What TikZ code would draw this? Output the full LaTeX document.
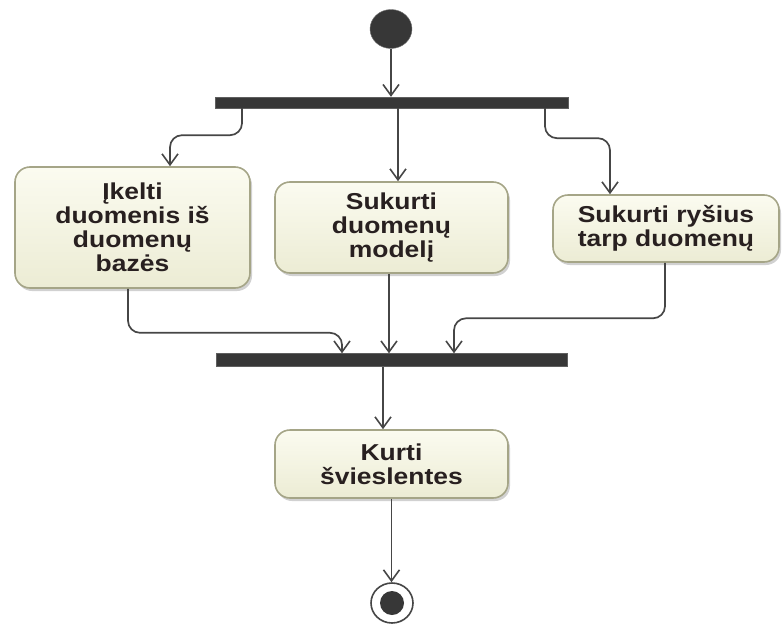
\documentclass[tikz,border=0pt]{standalone}
\usepackage{fontspec}
\setmainfont{Liberation Sans}[FakeStretch=1.15]
\usetikzlibrary{arrows.meta,calc,shadows,shapes.geometric}
\definecolor{barfill}{RGB}{55,55,55}
\definecolor{flowline}{RGB}{70,70,70}
\definecolor{actborder}{RGB}{165,165,135}
\definecolor{acttop}{RGB}{251,251,240}
\definecolor{actbot}{RGB}{236,236,212}
\definecolor{acttext}{RGB}{40,32,32}
\tikzset{
  actbox/.style={draw=actborder, line width=1.6pt, rounded corners=15pt,
    top color=acttop, bottom color=actbot, align=center, text=acttext,
    font=\fontsize{23}{24}\selectfont\bfseries, inner sep=2pt,
    drop shadow={shadow xshift=2pt, shadow yshift=-3pt, opacity=0.3, fill=black!60}},
  syncbar/.style={rectangle, fill=barfill, draw=barfill!80, inner sep=0pt},
  flow/.style={draw=flowline, line width=1.7pt, rounded corners=12pt,
    -{Straight Barb[length=11pt,width=16pt,line width=1.6pt]}},
}
\begin{document}
\begin{tikzpicture}[x=1pt,y=-1pt]
\useasboundingbox (0,0) rectangle (782,624);

% initial and final states
\node[ellipse, fill=barfill, draw=barfill!70, minimum width=42pt, minimum height=39pt, inner sep=0pt] (start) at (391,29) {};
\node[ellipse, draw=flowline, line width=1.6pt, fill=white, minimum width=42pt, minimum height=40pt, inner sep=0pt] (end) at (392,603) {};
\node[circle, fill=barfill, minimum size=24pt, inner sep=0pt] (endcore) at (end.center) {};

% fork and join bars
\node[syncbar, minimum width=353pt, minimum height=11pt] (fork) at (391.5,102.5) {};
\node[syncbar, minimum width=351pt, minimum height=13pt] (join) at (391.5,360) {};

% actions
\node[actbox, minimum width=235pt, minimum height=121pt] (load) at (132.5,227.5)
  {Įkelti\\duomenis iš\\duomenų\\bazės};
\node[actbox, minimum width=233pt, minimum height=91pt] (model) at (391.5,227.5)
  {Sukurti\\duomenų\\modelį};
\node[actbox, minimum width=226pt, minimum height=67pt] (rel) at (666,228.5)
  {Sukurti ryšius\\tarp duomenų};
\node[actbox, minimum width=233pt, minimum height=68pt] (dash) at (391.5,464)
  {Kurti\\švieslentes};

% control flows
\draw[flow, rounded corners=0pt] (start) -- (start |- fork.north);
\draw[flow] ([xshift=-149.5pt]fork.south) -- ++(0,27) -| ([xshift=37.5pt]load.north);
\draw[flow] ([xshift=6.5pt]fork.south) -- ([xshift=6.5pt]fork.south |- model.north);
\draw[flow] ([xshift=153.5pt]fork.south) -- ++(0,30) -| ([xshift=-56pt]rel.north);
\draw[flow] ([xshift=-4.5pt]load.south) -- ++(0,44) -| ([xshift=-49.5pt]join.north);
\draw[flow] ([xshift=-2.5pt]model.south) -- ([xshift=-2.5pt]model.south |- join.north);
\draw[flow] ([xshift=-1pt]rel.south) -- ++(0,55.5) -| ([xshift=62.5pt]join.north);
\draw[flow] ([xshift=-8.5pt]join.south) -- ([xshift=-8.5pt]join.south |- dash.north);
\draw[flow] (dash.south) -- (dash.south |- end.north);
\end{tikzpicture}
\end{document}
